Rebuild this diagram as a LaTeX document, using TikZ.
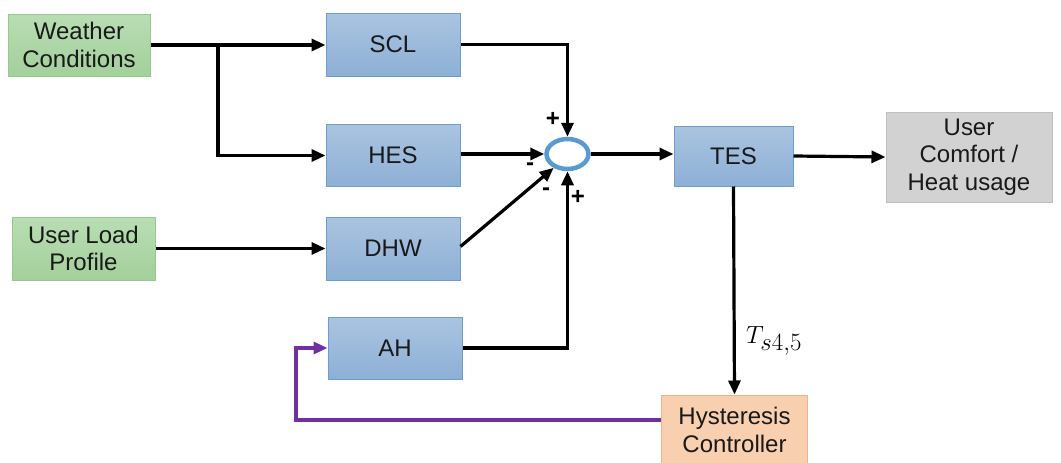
\documentclass[tikz,border=0pt]{standalone}
\usepackage{fontspec}
\setmainfont{Liberation Sans}
\usetikzlibrary{arrows.meta,shapes.geometric}
\definecolor{gtop}{HTML}{B9DDB4}
\definecolor{gbot}{HTML}{A3D09B}
\definecolor{gline}{HTML}{92CC88}
\definecolor{btop}{HTML}{AAC4E0}
\definecolor{bbot}{HTML}{8DB0D6}
\definecolor{bline}{HTML}{6C9DCD}
\definecolor{ofill}{HTML}{F8CFAF}
\definecolor{oline}{HTML}{F2B287}
\definecolor{gyfill}{HTML}{D2D2D2}
\definecolor{gyline}{HTML}{BFBFBF}
\definecolor{circ}{HTML}{5A9AD2}
\definecolor{purp}{HTML}{7030A0}
\tikzset{
  lbl/.style={font=\fontsize{24}{27.5}\selectfont, align=center, inner sep=0pt, text=black!90},
  greenbox/.style={lbl, draw=gline, line width=1pt, top color=gtop, bottom color=gbot},
  bluebox/.style={lbl, draw=bline, line width=1pt, top color=btop, bottom color=bbot},
  orangebox/.style={lbl, draw=oline, line width=1pt, fill=ofill},
  graybox/.style={lbl, draw=gyline, line width=1pt, fill=gyfill},
  conn/.style={line width=3.2pt, black, -{Triangle[length=14pt,width=12pt]}},
  fb/.style={line width=3.2pt, purp, -{Triangle[length=14pt,width=12pt]}},
  sgn/.style={font=\fontsize{24}{24}\selectfont\bfseries, inner sep=0pt}
}
\begin{document}
\begin{tikzpicture}[x=1pt,y=-1pt]
\useasboundingbox (0,0) rectangle (1061,463);
% boxes
\node[greenbox, minimum width=142pt, minimum height=62pt] (wc) at (79,45) {Weather\\Conditions};
\node[greenbox, minimum width=143pt, minimum height=63pt] (ulp) at (83.5,248.5) {User Load\\Profile};
\node[bluebox, minimum width=134pt, minimum height=63pt] (scl) at (393,44.5) {SCL};
\node[bluebox, minimum width=134pt, minimum height=62pt] (hes) at (393,155.5) {HES};
\node[bluebox, minimum width=134pt, minimum height=63pt] (dhw) at (393,248.5) {DHW};
\node[bluebox, minimum width=134pt, minimum height=62pt] (ah) at (395,348) {AH};
\node[bluebox, minimum width=119pt, minimum height=60pt] (tes) at (733.5,156) {TES};
\node[graybox, minimum width=166pt, minimum height=90pt] (uc) at (969,157) {User\\Comfort /\\Heat usage};
\node[orangebox, minimum width=146pt, minimum height=70pt] (hc) at (734.5,430) {Hysteresis\\Controller};
\node[ellipse, draw=circ, line width=4.5pt, fill=white, minimum width=42pt, minimum height=30pt, inner sep=0pt] (sum) at (567.5,154) {};
% connectors
\coordinate (br) at (218,45);
\draw[conn] (wc.east |- 0,45) -- (scl.west |- 0,45);
\draw[conn] (br) -- (218,155.5) -- (hes.west);
\draw[conn] (ulp.east) -- (dhw.west);
\draw[conn] (scl.east) -| (sum.north);
\draw[conn] (hes.east |- sum.west) -- (sum.west);
\draw[conn] (dhw.east) ++(0,-2) -- (sum.225);
\draw[conn] (ah.east) -| (sum.south);
\draw[conn] (sum.east) -- (tes.west |- sum.east);
\draw[conn] (tes.east) -- (uc.west);
\draw[conn] (tes.south) -- (hc.north);
\draw[fb] (hc.west |- 0,420) -- (296,420) -- (296,348) -- (ah.west);
% labels
\node[font=\fontsize{35}{37}\selectfont, anchor=west, inner sep=0pt] (ts) at (746,341) {$T_{s4,5}$};
\node[sgn] (p1) at (553,119) {+};
\node[sgn] (m1) at (530,167) {-};
\node[sgn] (m2) at (546,192) {-};
\node[sgn] (p2) at (578,197) {+};
\end{tikzpicture}
\end{document}
